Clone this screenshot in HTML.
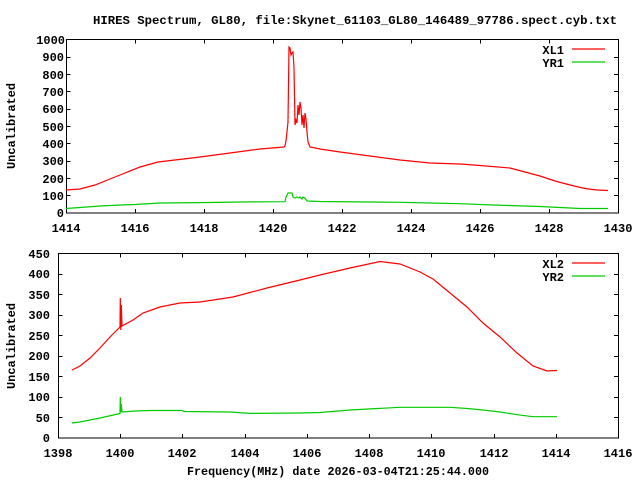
<!DOCTYPE html>
<html><head><style>html,body{margin:0;padding:0;background:#fff}svg{display:block}text{font-family:"Liberation Mono","DejaVu Sans Mono",monospace;font-weight:bold;font-size:12px;fill:#000}</style></head><body>
<svg width="640" height="480" viewBox="0 0 640 480" xmlns="http://www.w3.org/2000/svg">
<text x="93" y="24" textLength="524" lengthAdjust="spacingAndGlyphs">HIRES Spectrum, GL80, file:Skynet_61103_GL80_146489_97786.spect.cyb.txt</text>
<g stroke="#000" stroke-width="1" fill="none" shape-rendering="crispEdges">
<rect x="66.5" y="39.5" width="552" height="173.5"/>
<rect x="58.5" y="253.5" width="560" height="184.5"/>
<path d="M135.5 213v-4M135.5 39.5v4M204.5 213v-4M204.5 39.5v4M273.5 213v-4M273.5 39.5v4M342.5 213v-4M342.5 39.5v4M411.5 213v-4M411.5 39.5v4M480.5 213v-4M480.5 39.5v4M549.5 213v-4M549.5 39.5v4"/>
<path d="M66.5 195.5h4M618 195.5h-4M66.5 178.5h4M618 178.5h-4M66.5 161.5h4M618 161.5h-4M66.5 143.5h4M618 143.5h-4M66.5 126.5h4M618 126.5h-4M66.5 109.5h4M618 109.5h-4M66.5 91.5h4M618 91.5h-4M66.5 74.5h4M618 74.5h-4M66.5 57.5h4M618 57.5h-4"/>
<path d="M120.5 438v-4M120.5 253.5v4M182.5 438v-4M182.5 253.5v4M245.5 438v-4M245.5 253.5v4M307.5 438v-4M307.5 253.5v4M369.5 438v-4M369.5 253.5v4M431.5 438v-4M431.5 253.5v4M494.5 438v-4M494.5 253.5v4M556.5 438v-4M556.5 253.5v4"/>
<path d="M58.5 417.5h4M618 417.5h-4M58.5 397.5h4M618 397.5h-4M58.5 376.5h4M618 376.5h-4M58.5 356.5h4M618 356.5h-4M58.5 335.5h4M618 335.5h-4M58.5 315.5h4M618 315.5h-4M58.5 294.5h4M618 294.5h-4M58.5 274.5h4M618 274.5h-4"/>
</g>
<g text-anchor="end">
<text x="64" y="217">0</text><text x="64" y="200">100</text><text x="64" y="183">200</text><text x="64" y="165">300</text><text x="64" y="148">400</text><text x="64" y="131">500</text><text x="64" y="113">600</text><text x="64" y="96">700</text><text x="64" y="79">800</text><text x="64" y="61">900</text><text x="65" y="44">1000</text>
<text x="50" y="442">0</text><text x="50" y="422">50</text><text x="50" y="401">100</text><text x="50" y="381">150</text><text x="50" y="360">200</text><text x="50" y="340">250</text><text x="50" y="319">300</text><text x="50" y="299">350</text><text x="50" y="278">400</text><text x="50" y="258">450</text>
<text x="564" y="54">XL1</text><text x="564" y="67">YR1</text>
<text x="564" y="268">XL2</text><text x="564" y="281">YR2</text>
</g>
<g text-anchor="middle">
<text x="66" y="232">1414</text><text x="135" y="232">1416</text><text x="204" y="232">1418</text><text x="273" y="232">1420</text><text x="342" y="232">1422</text><text x="411" y="232">1424</text><text x="480" y="232">1426</text><text x="549" y="232">1428</text><text x="618" y="232">1430</text>
<text x="58" y="457">1398</text><text x="120" y="457">1400</text><text x="182" y="457">1402</text><text x="245" y="457">1404</text><text x="307" y="457">1406</text><text x="369" y="457">1408</text><text x="431" y="457">1410</text><text x="494" y="457">1412</text><text x="556" y="457">1414</text><text x="618" y="457">1416</text>
<text x="338" y="475" textLength="302" lengthAdjust="spacingAndGlyphs">Frequency(MHz) date 2026-03-04T21:25:44.000</text>
<text transform="translate(15,126) rotate(-90)" textLength="86" lengthAdjust="spacingAndGlyphs">Uncalibrated</text>
<text transform="translate(15,346) rotate(-90)" textLength="86" lengthAdjust="spacingAndGlyphs">Uncalibrated</text>
</g>
<g fill="none" stroke-width="1.2">
<path stroke="#f00" d="M572 49H605M572 263H605"/>
<path stroke="#0c0" d="M572 62H605M572 276H605"/>
<path stroke="#f00" d="M66 190L80 189L95 185L110 179L125 173L140 167L158 162L175 160L200 157L230 153L260 149L284 147L285 146L286 141L288 122L289 47L290 48L291 55L292 53L293 52L294 68L295 125L296 120L297 123L298 105L299 115L300 102L301 108L302 125L303 115L304 128L305 113L306 119L307 132L308 142L310 147L320 149L340 152L370 156L400 160L430 163L460 164L480 165.5L510 168L525 172L540 176L555 181L570 185L585 188.5L597 190L608 190.5"/>
<path stroke="#0c0" d="M66 208.5L80 207.5L100 206L120 205L135 204.5L160 203L210 202.5L240 202L285 201.7L286 197L288 193L292 193L293 197L295 198L297 197L299 198L300 197L302 199L303 197L305 198L307 201L320 201.5L400 202.3L430 203L460 203.7L493 205L540 206.5L580 208.5L608 208.5"/>
<path stroke="#f00" d="M72 370L80 366L90 358L100 348L110 337L120 327L120.3 298L120.8 330L121.3 305L122 326L133 320L143 313L160 307L180 303L200 302L233 297L267 288L300 280L320 275L350 268L380 261.5L400 264L420 272L433 279L450 293L467 307L483 323L500 337L517 353L533 366L547 371L557 370.5"/>
<path stroke="#0c0" d="M72 423L80 422L100 418L120 413.5L120.3 397L120.8 412L121.3 404L122 412L135 411L150 410.5L182 410.5L184 411.5L230 412L250 413.4L300 413L320 412.5L350 410L400 407.3L450 407.3L467 408.5L483 410L500 412L517 414.7L533 416.7L557 416.7"/>
</g>
</svg>
</body></html>
